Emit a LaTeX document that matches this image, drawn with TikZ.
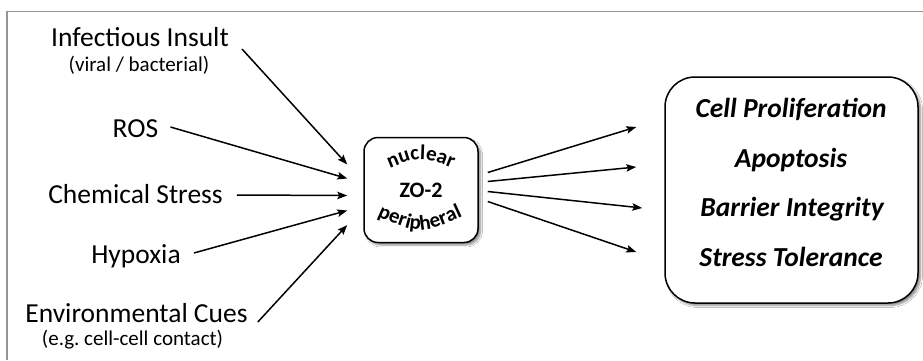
\documentclass[tikz,border=0pt]{standalone}
\usepackage{fontspec}
\setmainfont{Carlito}
\usetikzlibrary{arrows.meta,decorations.text,shadows.blur}
\begin{document}
\frenchspacing
\begin{tikzpicture}[x=1pt,y=-1pt,
  lbl/.style={font=\fontsize{27.5}{30}\selectfont, inner sep=0pt, anchor=base, text=black},
  sublbl/.style={font=\fontsize{21}{24}\selectfont, inner sep=0pt, anchor=base, text=black},
  outlbl/.style={font=\fontsize{27.5}{30}\selectfont\bfseries\itshape, inner sep=0pt, anchor=base, text=black},
  arr/.style={-{Stealth[length=10pt,width=7.5pt,inset=2pt]}, line width=1.5pt, black},
  boxsh/.style={blur shadow={shadow xshift=2.5pt, shadow yshift=-2.5pt, shadow blur steps=6, shadow opacity=45}}
]
\useasboundingbox (0,0) rectangle (923,360);
\fill[white] (0,0) rectangle (923,360);
% frame
\draw[black!42, line width=1.6pt] (923,11.5) -- (7,11.5) -- (7,360);

% input labels
\node[lbl] (inf) at (140,46) {Infectious Insult};
\node[sublbl] (infs) at (139,71.5) {(viral / bacterial)};
\node[lbl] (ros) at (135.5,137) {ROS};
\node[lbl] (chem) at (135.5,203) {Chemical Stress};
\node[lbl] (hyp) at (136,263) {Hypoxia};
\node[lbl] (env) at (136.5,322) {Environmental Cues};
\node[sublbl] (envs) at (132.5,345.5) {(e.g.\ cell-cell contact)};

% ZO-2 box
\node[draw=black, line width=1.5pt, rounded corners=14pt, fill=white, boxsh,
      minimum width=114pt, minimum height=105pt, inner sep=0pt,
      font=\fontsize{22}{24}\selectfont\bfseries, text=black] (zo) at (421,190) {ZO-2};
\path[decorate, decoration={text along path, text align=center,
      text={|\fontsize{21}{22}\selectfont\bfseries|nuclear}}]
      (379,173) .. controls (421,155) .. (463,173);
\path[decorate, decoration={text along path, text align=center,
      text={|\fontsize{21}{22}\selectfont\bfseries|peripheral}}]
      (366,211) .. controls (420,236) .. (474,211);

% outcome box
\node[draw=black, line width=1.5pt, rounded corners=30pt, fill=white, boxsh,
      minimum width=253pt, minimum height=226pt, inner sep=0pt] (out) at (791.5,190) {};
\node[outlbl] (o1) at (791,117.5) {Cell Proliferation};
\node[outlbl] (o2) at (791,167) {Apoptosis};
\node[outlbl] (o3) at (792,216.5) {Barrier Integrity};
\node[outlbl] (o4) at (791,266) {Stress Tolerance};

% arrow end coordinates
\coordinate (e1) at ([shift={(-16,-25.5)}]zo.west);
\coordinate (e2) at ([shift={(-16,-11.5)}]zo.west);
\coordinate (e3) at ([shift={(-16,5.5)}]zo.west);
\coordinate (e4) at ([shift={(-16,20.5)}]zo.west);
\coordinate (e5) at ([shift={(-16,35)}]zo.west);

\coordinate (s1) at ([shift={(9,-17.5)}]zo.east);
\coordinate (s2) at ([shift={(9,-8.5)}]zo.east);
\coordinate (s3) at ([shift={(9,1.5)}]zo.east);
\coordinate (s4) at ([shift={(9,11.5)}]zo.east);

\coordinate (t1) at ([shift={(-28,-63)}]out.west);
\coordinate (t2) at ([shift={(-28,-23)}]out.west);
\coordinate (t3) at ([shift={(-22,18)}]out.west);
\coordinate (t4) at ([shift={(-28,62)}]out.west);

% input arrows
\draw[arr] ([shift={(13,3)}]inf.base east) -- (e1);
\draw[arr] ([shift={(12,-10)}]ros.base east) -- (e2);
\draw[arr] ([shift={(14,-8)}]chem.base east) -- (e3);
\draw[arr] ([shift={(13,-10)}]hyp.base east) -- (e4);
\draw[arr] ([shift={(10,0)}]env.base east) -- (e5);

% output arrows
\draw[arr] (s1) -- (t1);
\draw[arr] (s2) -- (t2);
\draw[arr] (s3) -- (t3);
\draw[arr] (s4) -- (t4);
\end{tikzpicture}
\end{document}
